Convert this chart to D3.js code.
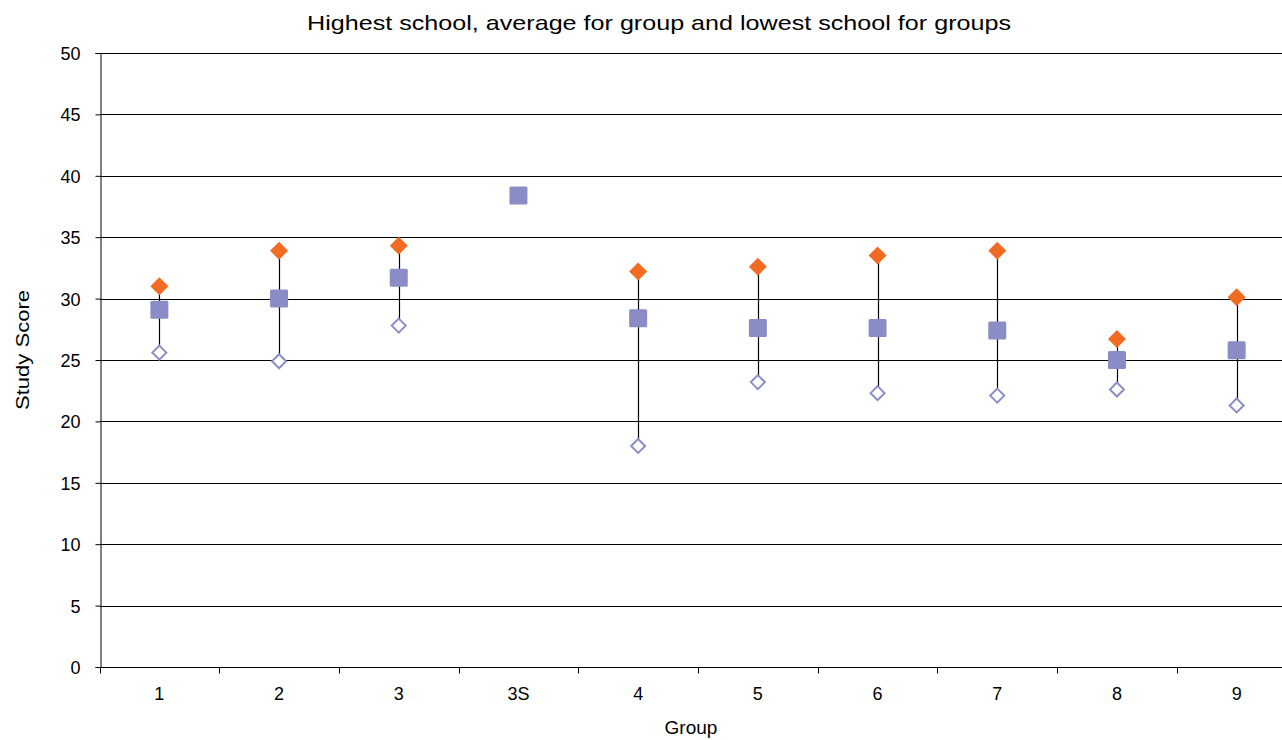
<!DOCTYPE html>
<html><head><meta charset="utf-8">
<script src="https://cdn.jsdelivr.net/npm/d3@7"></script>
<style>body{margin:0;background:#fff}svg{display:block}text{font-family:"Liberation Sans",Arial,sans-serif;fill:#000}</style>
</head><body><svg id="c" width="1282" height="740"></svg>
<script>
const groups = ["1","2","3","3S","4","5","6","7","8","9"];
const highest = [31.0,33.9,34.3,null,32.2,32.6,33.5,33.9,26.7,30.1];
const average = [29.1,30.0,31.7,38.4,28.4,27.6,27.6,27.4,25.0,25.8];
const lowest  = [25.6,24.9,27.8,null,18.0,23.2,22.3,22.1,22.6,21.3];
const yTicks = [0,5,10,15,20,25,30,35,40,45,50];

const svg = d3.select("#c");
const x = d3.scaleBand().domain(groups).range([99.5, 1296.5]);
const y = d3.scaleLinear().domain([0,50]).range([667, 53]);
const cx = g => x(g) + x.bandwidth()/2;

// gridlines
svg.append("g").selectAll("line").data(yTicks.filter(t=>t>0)).join("line")
  .attr("x1",100).attr("x2",1282).attr("y1",d=>Math.round(y(d))+0.5).attr("y2",d=>Math.round(y(d))+0.5)
  .attr("stroke","#000").attr("stroke-width",1);

// y axis
const ya = svg.append("g").attr("transform","translate(100.5,0)")
  .call(d3.axisLeft(y).tickValues(yTicks).tickSize(5).tickPadding(15));
ya.select(".domain").attr("stroke","#000");
ya.selectAll("text").attr("font-size",18).attr("font-family","Liberation Sans, Arial, sans-serif").attr("dy","0.36em");

// x axis
const xa = svg.append("g").attr("transform","translate(0,667.5)")
  .call(d3.axisBottom(x).tickSize(0).tickPadding(20));
xa.select(".domain").attr("d","M100,0H1282").attr("stroke","#000");
xa.selectAll("text").attr("font-size",18).attr("font-family","Liberation Sans, Arial, sans-serif");
xa.append("g").selectAll("line").data(groups).join("line")
  .attr("x1",d=>Math.round(x(d))+0.5).attr("x2",d=>Math.round(x(d))+0.5).attr("y1",0).attr("y2",6).attr("stroke","#000");

// range lines
const idx = d3.range(groups.length).filter(i => highest[i]!=null && lowest[i]!=null);
svg.append("g").selectAll("line").data(idx).join("line")
  .attr("x1",i=>Math.round(cx(groups[i]))+0.5).attr("x2",i=>Math.round(cx(groups[i]))+0.5)
  .attr("y1",i=>y(highest[i])).attr("y2",i=>y(lowest[i]))
  .attr("stroke","#000").attr("stroke-width",1.2);

// lowest: open diamonds
svg.append("g").selectAll("path").data(idx).join("path")
  .attr("d","M0,-7L7,0L0,7L-7,0Z")
  .attr("transform",i=>`translate(${cx(groups[i])},${y(lowest[i])})`)
  .attr("fill","#fff").attr("stroke","#8B8EC6").attr("stroke-width",2);

// highest: orange diamonds
svg.append("g").selectAll("path").data(idx).join("path")
  .attr("d","M0,-9L9,0L0,9L-9,0Z")
  .attr("transform",i=>`translate(${cx(groups[i])},${y(highest[i])})`)
  .attr("fill","#F26B23");

// average: squares
svg.append("g").selectAll("rect").data(groups).join("rect")
  .attr("x",(g)=>cx(g)-9).attr("y",(g,i)=>y(average[i])-9)
  .attr("width",18).attr("height",18).attr("rx",1.5)
  .attr("fill","#8A8DC5");

// titles
svg.append("text").attr("x",659).attr("y",30).attr("text-anchor","middle").style("font-size","21px")
  .attr("textLength",704).attr("lengthAdjust","spacingAndGlyphs")
  .text("Highest school, average for group and lowest school for groups");
svg.append("text").attr("x",691).attr("y",734).attr("text-anchor","middle").style("font-size","19px").text("Group");
svg.append("text").attr("transform","translate(29,350) rotate(-90)").attr("text-anchor","middle").style("font-size","19px")
  .attr("textLength",120).attr("lengthAdjust","spacingAndGlyphs").text("Study Score");
</script></body></html>
